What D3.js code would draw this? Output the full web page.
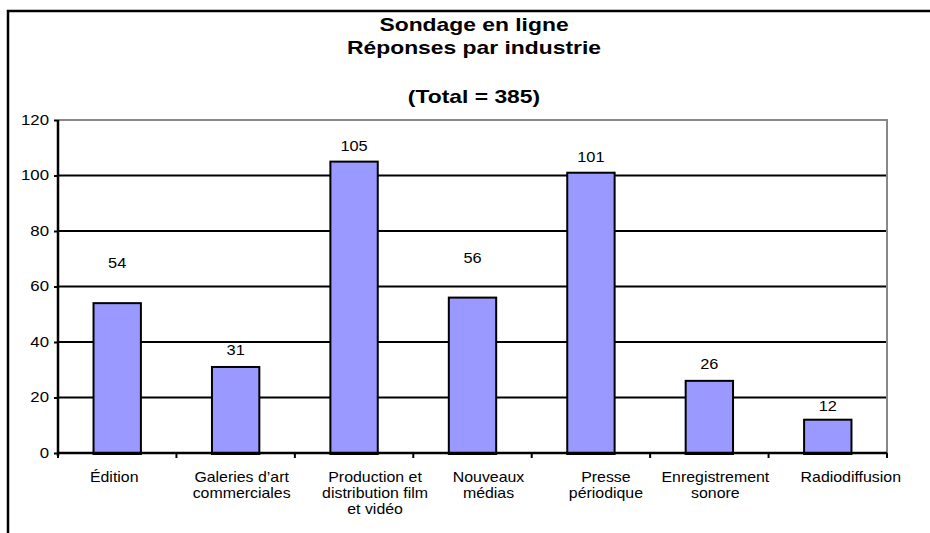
<!DOCTYPE html>
<html>
<head>
<meta charset="utf-8">
<script src="https://cdn.jsdelivr.net/npm/d3@7"></script>
<style>
  body { margin: 0; background: #fff; }
  text { font-family: "Liberation Sans", Arial, sans-serif; fill: #000; }
</style>
</head>
<body>
<div id="chart"></div>
<script>
// categories and values
const categories = [
    ['Édition'],
    ['Galeries d\u2019art', 'commerciales'],
    ['Production et', 'distribution film', 'et  vidéo'],
    ['Nouveaux', 'médias'],
    ['Presse', 'périodique'],
    ['Enregistrement', 'sonore'],
    ['Radiodiffusion']
];
const values = [54, 31, 105, 56, 101, 26, 12];
const yTicks = [0, 20, 40, 60, 80, 100, 120];
const titleLines = ['Sondage en ligne', 'Réponses par industrie', '(Total = 385)'];

function main() {
    const W = 930, H = 533;
    // layout tweaks copied from the original export
    const catNudge = [-3, 6, 21, 16, 15, 6, 23];
    const valueLift = [35, 12, 11, 35, 11, 12, 9];
    const titleY = [31, 54, 103];

    const svg = d3.select('#chart')
        .append('svg')
        .attr('width', W)
        .attr('height', H);

    // outer frame (cut off at right and bottom)
    svg.append('path')
        .attr('d', 'M8,533 V11 H932')
        .attr('fill', 'none')
        .attr('stroke', '#000')
        .attr('stroke-width', 2.5);

    // title (the original glyphs are wider than Arial, so stretch a bit)
    svg.selectAll('.title')
        .data(titleLines)
        .enter()
        .append('text')
        .attr('class', 'title')
        .attr('transform', (d, i) => `translate(474,${titleY[i]}) scale(1.27,1)`)
        .attr('text-anchor', 'middle')
        .style('font-size', '18px')
        .style('font-weight', 'bold')
        .text(d => d);

    const left = 58, right = 887, top = 120, bottom = 453;
    const keys = categories.map(c => c.join(' '));

    const x = d3.scaleBand()
        .domain(keys)
        .range([left, right])
        .paddingInner(0.6)
        .paddingOuter(0.3);

    const y = d3.scaleLinear()
        .domain([0, 120])
        .range([bottom, top]);

    // gridlines
    svg.append('g')
        .selectAll('line')
        .data(yTicks.filter(t => t > 0 && t < 120))
        .enter()
        .append('line')
        .attr('x1', left)
        .attr('x2', right)
        .attr('y1', d => y(d))
        .attr('y2', d => y(d))
        .attr('stroke', '#000')
        .attr('stroke-width', 2);

    // plot border top and right (gray)
    svg.append('path')
        .attr('d', `M${left},${y(120)} H${right} V${bottom + 5}`)
        .attr('fill', 'none')
        .attr('stroke', '#888')
        .attr('stroke-width', 2);

    // bars
    svg.append('g')
        .selectAll('rect')
        .data(values)
        .enter()
        .append('rect')
        .attr('x', (d, i) => x(keys[i]))
        .attr('y', d => y(d))
        .attr('width', x.bandwidth())
        .attr('height', d => y(0) - y(d) + 1)
        .attr('fill', '#9999FF')
        .attr('stroke', '#000')
        .attr('stroke-width', 2);

    // value labels
    svg.append('g')
        .selectAll('text')
        .data(values)
        .enter()
        .append('text')
        .attr('transform', (d, i) =>
            `translate(${x(keys[i]) + x.bandwidth() / 2},${y(d) - valueLift[i]}) scale(1.17,1)`)
        .attr('text-anchor', 'middle')
        .style('font-size', '14px')
        .text(d => d);

    // y axis
    const yAxis = svg.append('g')
        .attr('transform', `translate(${left},0)`)
        .call(d3.axisLeft(y).tickValues(yTicks).tickSize(4).tickPadding(5));
    yAxis.select('.domain').attr('stroke', '#000').attr('stroke-width', 2.5)
        .attr('d', `M0,${y(120)}V${bottom + 3}`);
    yAxis.selectAll('.tick line').attr('stroke-width', 2);
    yAxis.selectAll('.tick text')
        .attr('x', null)
        .attr('transform', 'translate(-9,0) scale(1.2,1)')
        .style('font-size', '14px')
        .style('font-family', '"Liberation Sans", Arial, sans-serif');

    // x axis line and tick marks at band edges
    const edges = d3.range(categories.length + 1).map(i => left + i * (right - left) / categories.length);
    svg.append('line')
        .attr('x1', left)
        .attr('x2', right)
        .attr('y1', bottom)
        .attr('y2', bottom)
        .attr('stroke', '#000')
        .attr('stroke-width', 2.5);
    svg.append('g')
        .selectAll('line')
        .data(edges)
        .enter()
        .append('line')
        .attr('x1', d => d)
        .attr('x2', d => d)
        .attr('y1', bottom)
        .attr('y2', bottom + 5)
        .attr('stroke', '#000')
        .attr('stroke-width', 2);

    // category labels
    const cat = svg.append('g')
        .selectAll('text')
        .data(categories)
        .enter()
        .append('text')
        .attr('transform', (d, i) =>
            `translate(${x(keys[i]) + x.bandwidth() / 2 + catNudge[i]},482) scale(1.135,1)`)
        .attr('text-anchor', 'middle')
        .style('font-size', '14px');
    cat.selectAll('tspan')
        .data(d => d)
        .enter()
        .append('tspan')
        .attr('x', 0)
        .attr('dy', (d, i) => i === 0 ? 0 : 16)
        .text(d => d);
}

main();
</script>
</body>
</html>
